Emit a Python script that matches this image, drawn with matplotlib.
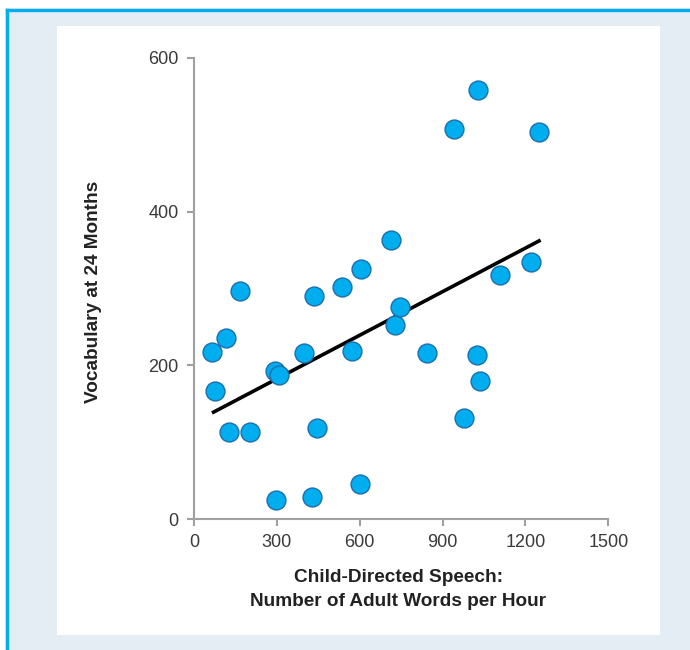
import matplotlib
matplotlib.use("Agg")
import matplotlib.pyplot as plt
from matplotlib.patches import Rectangle
from matplotlib.lines import Line2D

# Data
speech_words = [65, 75, 117, 165, 128, 201, 294, 308, 298, 397, 434, 446, 427,
                537, 606, 573, 600, 713, 746, 729, 843, 977, 1025, 1035,
                1028, 940, 1248, 1108, 1219]
vocabulary = [218, 167, 235, 297, 113, 113, 192, 187, 25, 216, 290, 118, 28,
              302, 326, 219, 45, 363, 276, 252, 216, 132, 213, 180,
              559, 507, 504, 318, 334]
trend_x = [65, 1255]
trend_y = [138, 363]
x_ticks = [0, 300, 600, 900, 1200, 1500]
y_ticks = [0, 200, 400, 600]

W, H = 690, 650
fig = plt.figure(figsize=(W / 100, H / 100), dpi=100)
fig.patch.set_facecolor("white")

def fx(px):
    return px / W

def fy(py):
    return 1 - py / H

# light background frame
fig.patches.append(Rectangle((fx(5), 0), 1 - fx(5), fy(8), transform=fig.transFigure,
                             facecolor="#E4ECF4", edgecolor="none", zorder=-2))
# white inner panel
fig.patches.append(Rectangle((fx(57), fy(635)), fx(660) - fx(57), fy(26) - fy(635),
                             transform=fig.transFigure, facecolor="white",
                             edgecolor="none", zorder=-1))
# blue top and left border lines
fig.lines.append(Line2D([fx(6.5), 1], [fy(9.5), fy(9.5)], transform=fig.transFigure,
                        color="#00AEEF", linewidth=2.4, zorder=-1))
fig.lines.append(Line2D([fx(6.5), fx(6.5)], [0, fy(9.5)], transform=fig.transFigure,
                        color="#00AEEF", linewidth=2.4, zorder=-1))

ax = fig.add_axes([fx(194), fy(519), fx(608.3) - fx(194), fy(58) - fy(519)])
ax.set_zorder(5)
ax.set_facecolor("none")
ax.set_xlim(0, 1500)
ax.set_ylim(0, 600)

ax.plot(trend_x, trend_y, color="black", linewidth=2.6, solid_capstyle="butt", zorder=2)
ax.scatter(speech_words, vocabulary, s=185, facecolor="#00ADEE", edgecolor="#1B6FAE",
           linewidth=1.0, zorder=3, clip_on=False)

for side in ["top", "right"]:
    ax.spines[side].set_visible(False)
for side in ["left", "bottom"]:
    ax.spines[side].set_color("#A0A0A0")
    ax.spines[side].set_linewidth(1.5)

ax.set_xticks(x_ticks)
ax.set_yticks(y_ticks)
ax.set_xticklabels([str(v) for v in x_ticks])
ax.set_yticklabels([str(v) for v in y_ticks])
ax.tick_params(axis="both", direction="out", length=5, width=1.5, color="#A0A0A0",
               labelsize=13, labelcolor="#3A3A3A", pad=6)
for lab in ax.get_xticklabels() + ax.get_yticklabels():
    lab.set_family("Liberation Sans")

fig.text(fx(398), fy(578), "Child-Directed Speech:", ha="center", va="center",
         fontsize=13.7, fontweight="bold", color="#222222", family="Liberation Sans")
fig.text(fx(398), fy(601), "Number of Adult Words per Hour", ha="center", va="center",
         fontsize=13.7, fontweight="bold", color="#222222", family="Liberation Sans")
fig.text(fx(94), fy(292), "Vocabulary at 24 Months", ha="center", va="center",
         rotation=90, fontsize=13.7, fontweight="bold", color="#222222",
         family="Liberation Sans")

fig.savefig("out.png", dpi=100)
